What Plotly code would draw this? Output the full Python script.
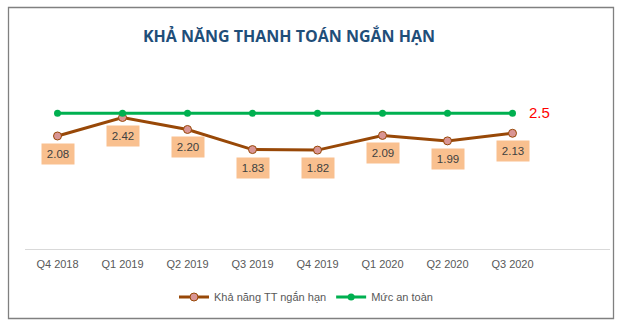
import plotly.graph_objects as go

# Quarterly short-term liquidity ratio vs. the safety threshold
quarters = ["Q4 2018", "Q1 2019", "Q2 2019", "Q3 2019", "Q4 2019", "Q1 2020", "Q2 2020", "Q3 2020"]
ratio = [2.08, 2.42, 2.20, 1.83, 1.82, 2.09, 1.99, 2.13]
safe_level = [2.5] * len(quarters)

ratio_name = "Khả năng TT ngắn hạn"
safe_name = "Mức an toàn"
title_text = "KHẢ NĂNG THANH TOÁN NGẮN HẠN"

FONT = "Liberation Sans, Arial"
idx = list(range(len(quarters)))

fig = go.Figure()
fig.add_trace(go.Scatter(
    x=idx, y=ratio, name=ratio_name, mode="lines+markers",
    line=dict(color="#984807", width=3),
    marker=dict(size=8, color="#D99594", line=dict(color="#984807", width=1)),
))
fig.add_trace(go.Scatter(
    x=idx, y=safe_level, name=safe_name, mode="lines+markers",
    line=dict(color="#00B050", width=3),
    marker=dict(size=7, color="#00B050"),
))

# value labels under the ratio points
for i, v in zip(idx, ratio):
    fig.add_annotation(
        x=i, y=v, text=f"{v:.2f}", showarrow=False, yshift=-18,
        font=dict(family=FONT, size=11.5, color="#404040"),
        bgcolor="#F9C08F", borderpad=3, width=26, height=14,
    )

# threshold label next to the last green point
fig.add_annotation(
    x=idx[-1], y=safe_level[-1], text=f"{safe_level[-1]:g}", showarrow=False,
    xanchor="left", xshift=14, yshift=1,
    font=dict(family=FONT, size=15, color="#FF0000"),
)

# outer chart frame
W, H = 620, 324
ml, mr, mt, mb = 25, 10, 86, 75
pw, ph = W - ml - mr, H - mt - mb
def px_to_paper_x(px):
    return (px - ml) / pw
def px_to_paper_y(py):
    return (H - mb - py) / ph
fig.add_shape(
    type="rect", xref="paper", yref="paper",
    x0=px_to_paper_x(8.5), x1=px_to_paper_x(613.5),
    y0=px_to_paper_y(318.5), y1=px_to_paper_y(7.5),
    line=dict(color="#808080", width=1.3), layer="below",
)

fig.update_layout(
    width=W, height=H,
    margin=dict(l=ml, r=mr, t=mt, b=mb),
    paper_bgcolor="white", plot_bgcolor="white",
    title=dict(
        text=f"<b>{title_text}</b>", x=289 / W, xanchor="center",
        y=1 - 36 / H, yanchor="middle",
        font=dict(family="Open Sans, Liberation Sans", size=16, color="#1F4E79"),
    ),
    showlegend=True,
    legend=dict(
        orientation="h", x=px_to_paper_x(306), xanchor="center", y=px_to_paper_y(297), yanchor="middle",
        font=dict(family=FONT, size=11, color="#595959"),
        itemwidth=30, tracegroupgap=0,
    ),
    xaxis=dict(
        range=[-0.5, 8.5], tickmode="array", tickvals=idx, ticktext=quarters,
        showgrid=False, zeroline=False, showline=False, ticks="",
        tickfont=dict(family=FONT, size=11, color="#595959"),
        ticklabelstandoff=7, fixedrange=True,
    ),
    yaxis=dict(
        range=[0, 3], showticklabels=False, showgrid=False,
        zeroline=True, zerolinecolor="#D9D9D9", zerolinewidth=1,
        showline=False, ticks="", fixedrange=True,
    ),
)

fig.write_html("out.html")
